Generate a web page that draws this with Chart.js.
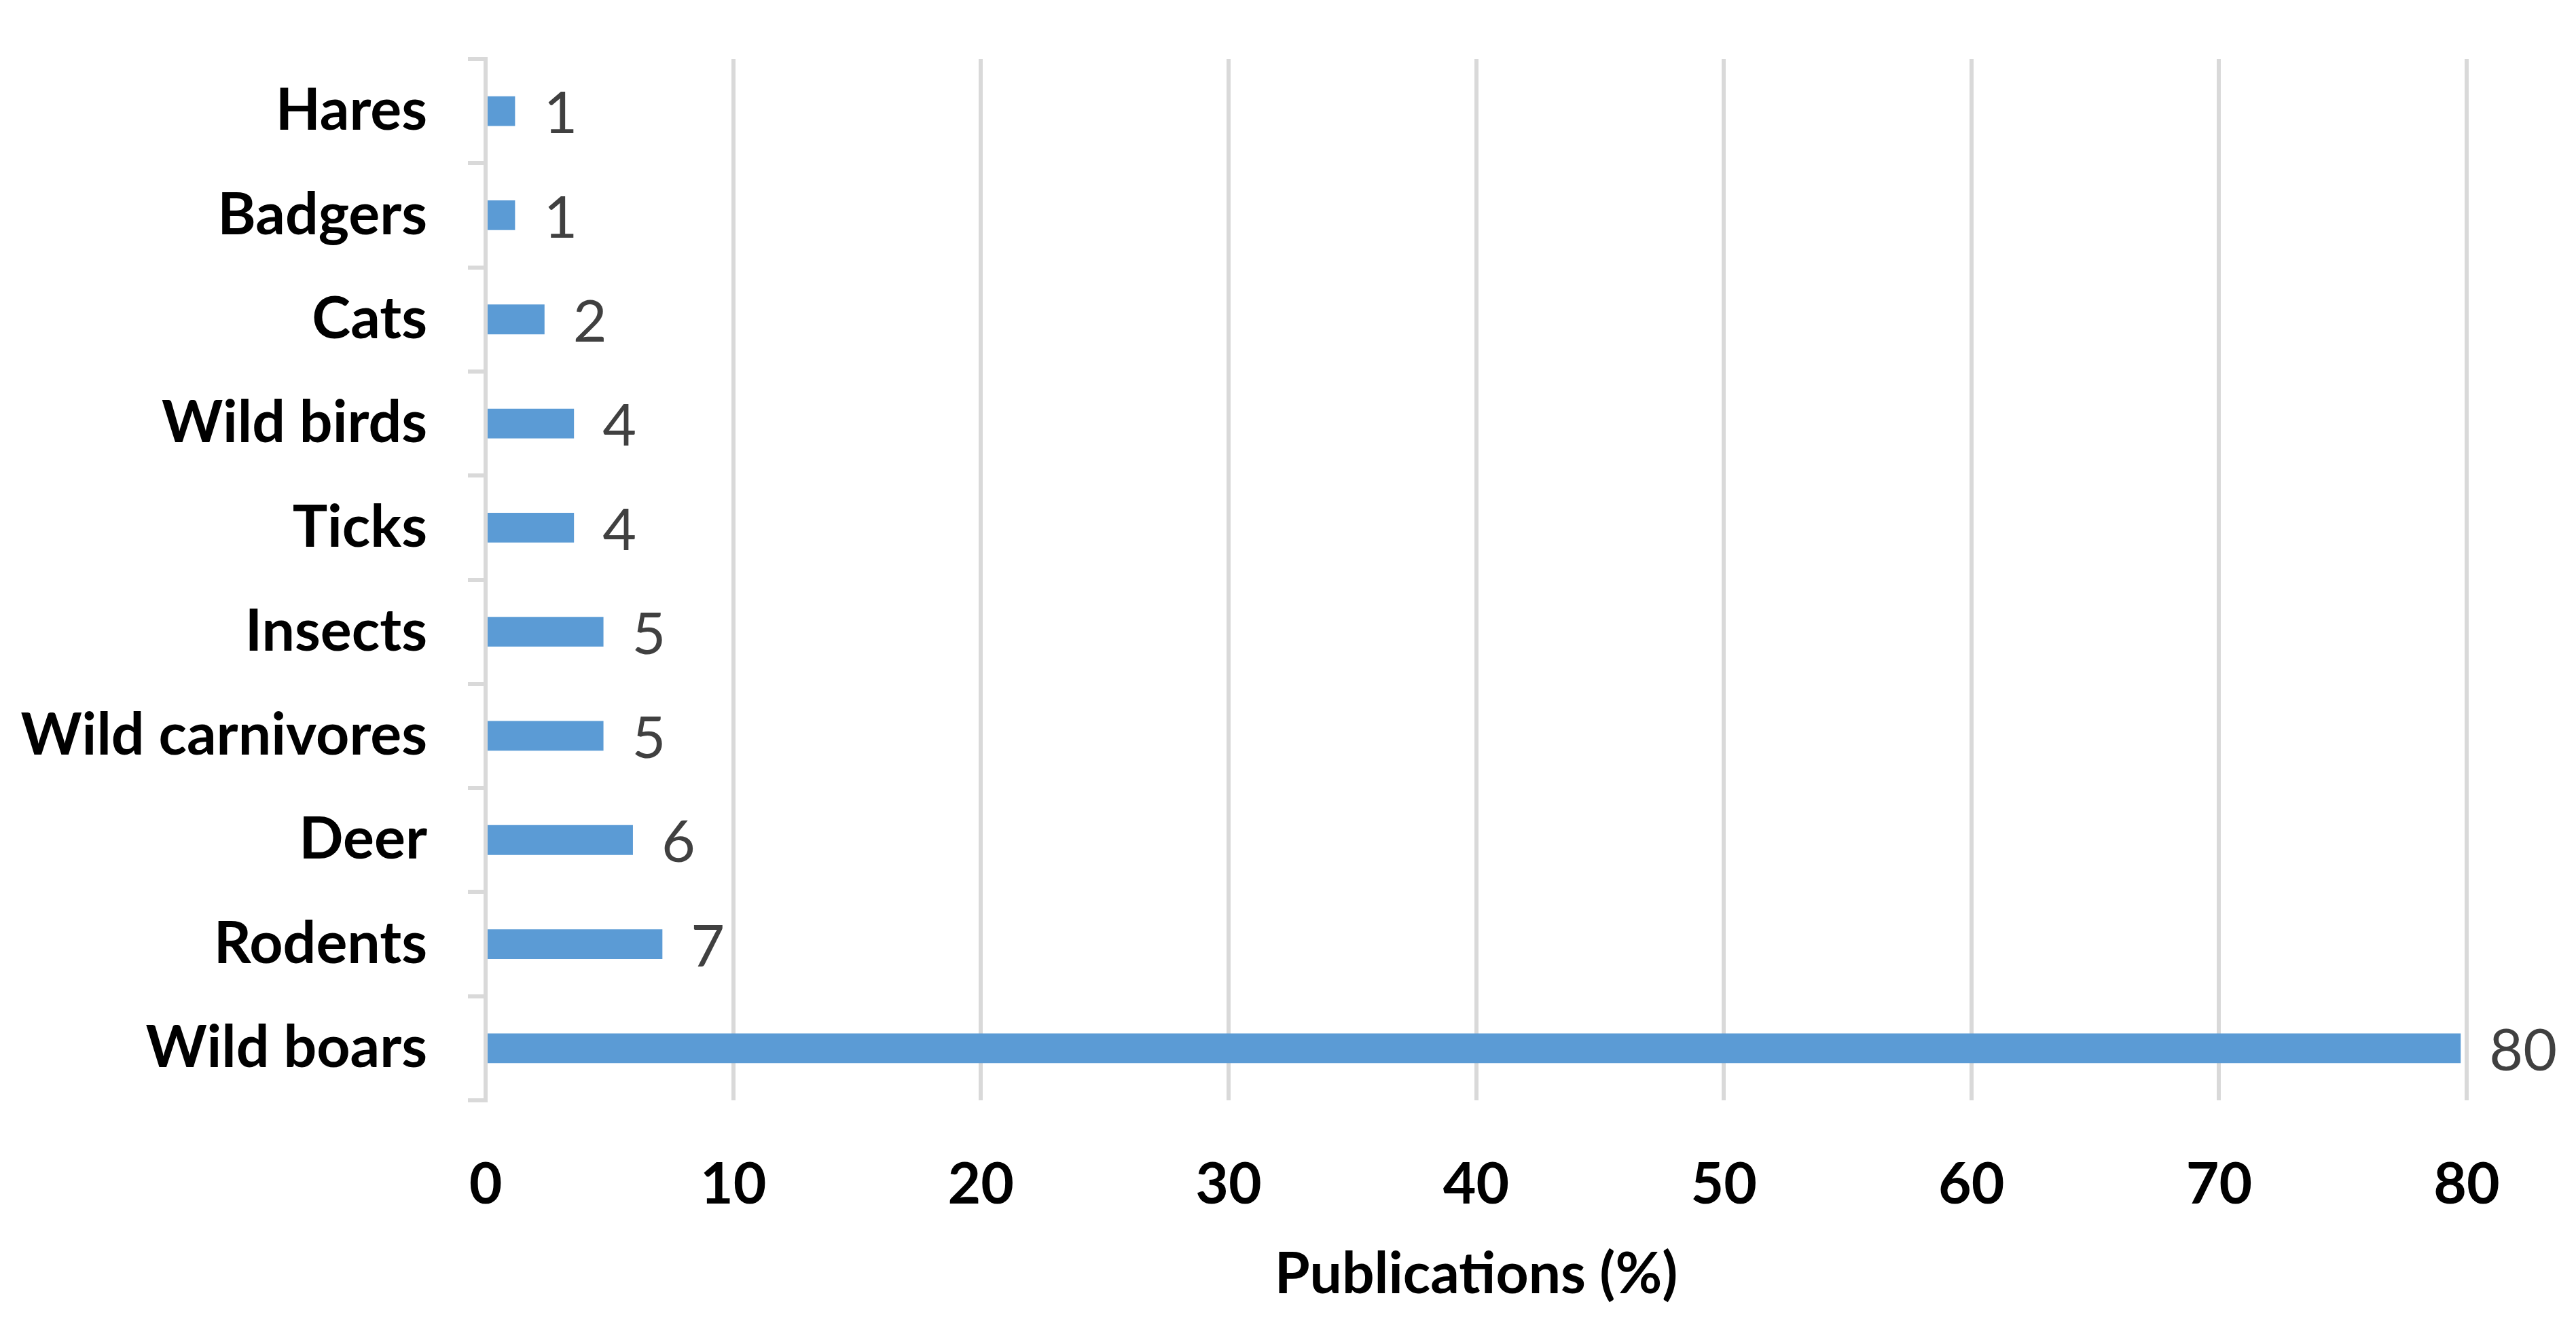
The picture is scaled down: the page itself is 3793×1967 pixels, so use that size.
<!DOCTYPE html>
<html>
<head>
<meta charset="utf-8">
<script src="https://cdn.jsdelivr.net/npm/chart.js@4"></script>
<style>
  html, body { margin: 0; padding: 0; background: #fff; }
  #wrap { width: 3793px; height: 1967px; position: relative; }
</style>
</head>
<body>
<div id="wrap"><canvas id="chart"></canvas></div>
<script>
// Host groups, top to bottom as shown on the chart
const categories = ['Hares', 'Badgers', 'Cats', 'Wild birds', 'Ticks', 'Insects', 'Wild carnivores', 'Deer', 'Rodents', 'Wild boars'];
// Share of publications (%)
const publications = [1.19, 1.19, 2.38, 3.57, 3.57, 4.76, 4.76, 5.95, 7.14, 79.76];
// x axis ticks
const xTicks = [0, 10, 20, 30, 40, 50, 60, 70, 80];

const FONT = 'Lato, "Open Sans", sans-serif';

// value labels to the right of each bar, rounded like the source
const barLabels = {
  id: 'barLabels',
  afterDatasetsDraw(chart) {
    const ctx = chart.ctx;
    const meta = chart.getDatasetMeta(0);
    ctx.save();
    ctx.font = '86px ' + FONT;
    ctx.fillStyle = '#404040';
    ctx.textAlign = 'left';
    ctx.textBaseline = 'middle';
    meta.data.forEach((bar, i) => {
      ctx.fillText(Math.round(publications[i]).toString(), bar.x + 42, bar.y + 5);
    });
    ctx.restore();
  }
};

new Chart(document.getElementById('chart'), {
  type: 'bar',
  data: {
    labels: categories,
    datasets: [{
      label: 'Publications (%)',
      data: publications,
      backgroundColor: '#5b9bd5',
      borderWidth: 0,
      barPercentage: 0.286,
      categoryPercentage: 1
    }]
  },
  options: {
    indexAxis: 'y',
    responsive: true,
    maintainAspectRatio: false,
    devicePixelRatio: 1,
    animation: false,
    layout: { padding: { top: 87, right: 161, left: 0, bottom: 0 } },
    plugins: {
      legend: { display: false },
      tooltip: { enabled: false }
    },
    scales: {
      x: {
        min: 0,
        max: 80,
        afterBuildTicks: scale => { scale.ticks = xTicks.map(v => ({ value: v })); },
        afterFit: scale => {
          scale.height = 347;
          scale.paddingLeft = 0;
          scale.paddingRight = 0;
        },
        grid: { color: '#d9d9d9', lineWidth: 6, drawTicks: false },
        border: { display: false },
        ticks: {
          color: '#000',
          padding: 75,
          font: { family: FONT, size: 84, weight: 'bold' }
        },
        title: {
          display: true,
          text: 'Publications (%)',
          color: '#000',
          padding: { top: 0, bottom: 40 },
          font: { family: FONT, size: 84, weight: 'bold' }
        }
      },
      y: {
        afterFit: scale => {
          scale.width = 715;
          scale.paddingTop = 0;
          scale.paddingBottom = 0;
        },
        grid: { drawOnChartArea: false, color: '#d9d9d9', lineWidth: 6, tickLength: 26 },
        border: { display: true, color: '#d9d9d9', width: 6 },
        ticks: {
          color: '#000',
          padding: 60,
          font: { family: FONT, size: 86, weight: 'bold' }
        }
      }
    }
  },
  plugins: [barLabels]
});
</script>
</body>
</html>
